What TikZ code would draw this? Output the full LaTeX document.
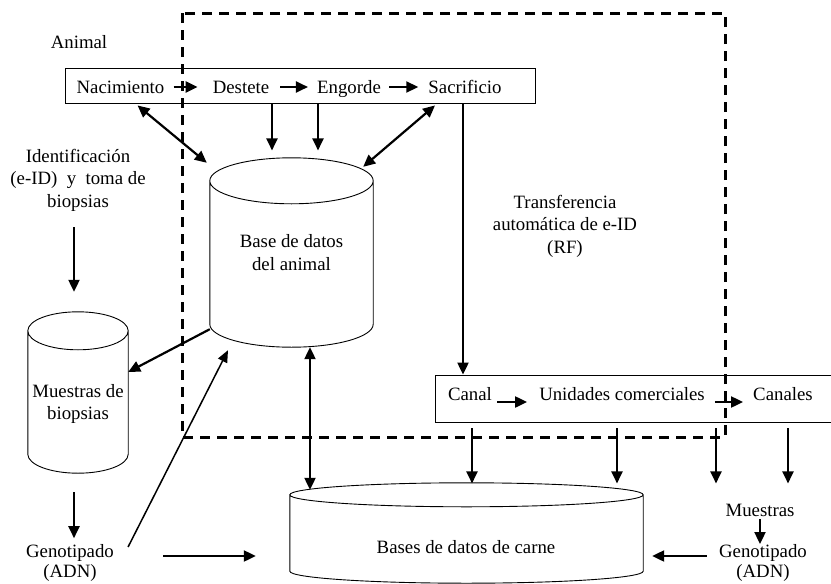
\documentclass[tikz,border=0pt]{standalone}
\usepackage{fontspec}
\setmainfont{Liberation Serif}
\usetikzlibrary{arrows.meta,calc}

\tikzset{
  txt/.style={inner sep=0pt, align=center},
  word/.style={txt, text height=12.4pt, text depth=0pt},
  box/.style={draw, line width=0.9pt, inner sep=0pt},
  dbbody/.style={inner sep=0pt, align=center},
  flow/.style={line width=2.2pt, -{Triangle[length=12pt,width=11pt]}},
  both/.style={line width=2.2pt, {Triangle[length=12pt,width=11pt]}-{Triangle[length=12pt,width=11pt]}},
  thinflow/.style={line width=1.5pt, -{Triangle[length=12pt,width=10pt]}},
  dashframe/.style={line width=3pt, dash pattern=on 10pt off 7pt},
  geno/.style={txt, font=\fontsize{18.8}{20.5}\selectfont},
}

% outline of a data base drawn round a node
\newcommand\dbcyl[2]{%
  \draw[line width=0.9pt] let \p1=(#1.south west), \p2=(#1.north east), \n1={(\x2-\x1)/2} in
    ([yshift=-#2]#1.north west) -- ([yshift=#2]#1.south west)
    arc[start angle=180, end angle=360, x radius=\n1*1pt, y radius=#2]
    -- ([yshift=-#2]#1.north east)
    arc[start angle=0, end angle=360, x radius=\n1*1pt, y radius=#2];}

\begin{document}
\begin{tikzpicture}[x=1pt, y=-1pt, font=\fontsize{18.8}{22.5}\selectfont]
\useasboundingbox (0,0) rectangle (831,584);

% frame
\draw[dashframe] (182,13) rectangle (725,437);

% animal
\node[word] (animal) at (79,42) {Animal};
\node[box, minimum width=470, minimum height=35] (topbox) at (300,85.5) {};
\node[word] (nac) at (120.5,87) {Nacimiento};
\node[word] (dest) at (241,87) {Destete};
\node[word] (eng) at (349,87) {Engorde};
\node[word] (sac) at (465,87) {Sacrificio};
\draw[flow] ([xshift=9pt]nac.east) -- ([xshift=-15pt]dest.west);
\draw[flow] ([xshift=11pt]dest.east) -- ([xshift=-9pt]eng.west);
\draw[flow] ([xshift=8pt]eng.east) -- ([xshift=-10pt]sac.west);

% data bases
\node[dbbody, minimum width=163, minimum height=189] (animaldb) at (291.5,252.5) {Base de datos\\del animal};
\dbcyl{animaldb}{23pt}
\node[dbbody, minimum width=100, minimum height=161] (muestras) at (78,392.5) {};
\dbcyl{muestras}{19pt}
\node[txt] (muestraslbl) at (78,404) {Muestras de\\biopsias};
\node[dbbody, minimum width=353, minimum height=100] (meatdb) at (466.5,533) {};
\dbcyl{meatdb}{12pt}
\node[word] (meatlbl) at (466,547) {Bases de datos de carne};

\draw[both] ([xshift=73pt,yshift=-2pt]topbox.south west) -- ([xshift=-3pt,yshift=-5pt]animaldb.north west);
\draw[flow] ([xshift=-28pt]topbox.south) -- ++(0,47);
\draw[flow] ([xshift=18pt]topbox.south) -- ++(0,47);
\draw[both] ([xshift=135pt,yshift=-2pt]topbox.south) -- ([xshift=-10pt,yshift=-9pt]animaldb.north east);

% left side
\node[txt] (ident) at (78,180) {Identificación\\(e-ID)\ \ y\ \ toma de\\biopsias};
\draw[flow] ([xshift=-4pt,yshift=-16pt]ident.south) -- ([xshift=-4pt,yshift=20pt]muestras.north);
\draw[flow] ([yshift=18pt]animaldb.south west) -- ([yshift=20.5pt]muestras.east);
\node[geno] (geno1) at (70,563) {Genotipado\\(ADN)};
\draw[flow] ([xshift=-4pt,yshift=-19pt]muestras.south) -- ++(0,46);
\draw[thinflow] ([xshift=14pt,yshift=16pt]geno1.east) -- ([xshift=-63.5pt,yshift=-3pt]animaldb.south);
\coordinate (g1) at ([xshift=49pt,yshift=7pt]geno1.east);
\draw[flow, shorten >=34pt] (g1) -- (g1 -| meatdb.west);
\draw[both] ([xshift=18.5pt]animaldb.south) -- ([xshift=-156.5pt,yshift=-7pt]meatdb.north);

% slaughter
\node[txt] (rf) at (565,226) {Transferencia\\automática de e-ID\\(RF)};
\node[box, minimum width=397, minimum height=47] (canalbox) at (633.5,398.5) {};
\draw[flow] ([xshift=163pt]topbox.south) -- ([xshift=-170.5pt]canalbox.north);
\node[word] (canal) at (470,394) {Canal};
\node[word] (unid) at (622,394) {Unidades comerciales};
\node[word] (canales) at (783,394) {Canales};
\draw[flow] ([xshift=5pt,yshift=-8pt]canal.east) -- ([xshift=-12pt,yshift=-8pt]unid.west);
\draw[flow] ([xshift=10pt,yshift=-8pt]unid.east) -- ([xshift=-10pt,yshift=-8pt]canales.west);
\foreach \dx in {-161.5,-16.5,82.5,154.5}
  \draw[flow] ([xshift=\dx pt,yshift=-6pt]canalbox.south) -- ++(0,55);

% right side
\node[word] (mues2) at (760,510) {Muestras};
\node[geno] (geno2) at (763,563) {Genotipado\\(ADN)};
\draw[flow] ([yshift=-3pt]mues2.south) -- (mues2.south |- geno2.north);
\coordinate (g2) at ([xshift=-12pt,yshift=7pt]geno2.west);
\draw[flow, shorten >=9pt] (g2) -- (g2 -| meatdb.east);
\end{tikzpicture}
\end{document}
